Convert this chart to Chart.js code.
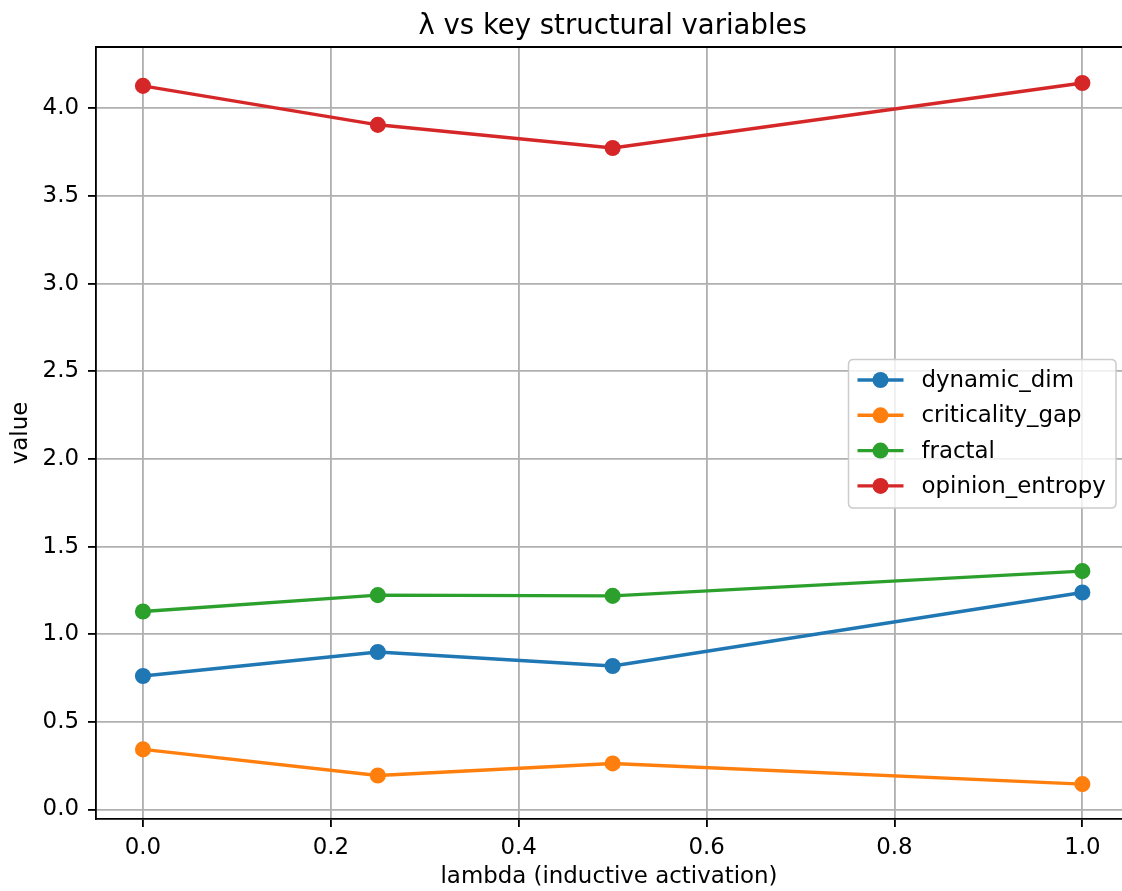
<!DOCTYPE html>
<html>
<head>
<meta charset="utf-8">
<script src="https://cdn.jsdelivr.net/npm/chart.js@4.4.1/dist/chart.umd.min.js"></script>
<style>
  body { margin: 0; background: #fff; }
  #wrap { width: 1122px; height: 891px; }
</style>
</head>
<body>
<div id="wrap"><canvas id="chart" width="1122" height="891"></canvas></div>
<script>
// values
const lambdas = [0.0, 0.25, 0.5, 1.0];
const dynamicDim = [0.762, 0.899, 0.819, 1.238];
const criticalityGap = [0.343, 0.194, 0.263, 0.145];
const fractal = [1.130, 1.223, 1.219, 1.360];
const opinionEntropy = [4.128, 3.906, 3.774, 4.145];

const seriesNames = ['dynamic_dim', 'criticality_gap', 'fractal', 'opinion_entropy'];
const seriesValues = [dynamicDim, criticalityGap, fractal, opinionEntropy];
const seriesColors = ['#1f77b4', '#ff7f0e', '#2ca02c', '#d62728'];

const xTicks = [0.0, 0.2, 0.4, 0.6, 0.8, 1.0];
const yTicks = [0.0, 0.5, 1.0, 1.5, 2.0, 2.5, 3.0, 3.5, 4.0];

const FONT = 'DejaVu Sans';

function keepTicks(list) {
    return (scale) => {
        scale.ticks = list.map(v => ({ value: v }));
    };
}

// title, top spine and an in-plot legend like matplotlib draws them
const extras = {
    id: 'extras',
    afterDraw(chart) {
        const ctx = chart.ctx;
        const area = chart.chartArea;
        const xs = chart.scales.x;
        ctx.save();

        // top spine
        ctx.strokeStyle = '#000';
        ctx.lineWidth = 1.83;
        ctx.beginPath();
        ctx.moveTo(area.left - 0.9, area.top);
        ctx.lineTo(area.right, area.top);
        ctx.stroke();

        // title centred over the full axes (-0.05 .. 1.05)
        const mid = (xs.getPixelForValue(-0.05) + xs.getPixelForValue(1.05)) / 2;
        ctx.fillStyle = '#000';
        ctx.font = '27.5px "' + FONT + '"';
        ctx.textAlign = 'center';
        ctx.textBaseline = 'alphabetic';
        ctx.fillText('λ vs key structural variables', mid, 34);

        // legend box
        const bx = 848.5, by = 359.5, bw = 267.5, bh = 148.5, r = 5;
        ctx.beginPath();
        ctx.moveTo(bx + r, by);
        ctx.lineTo(bx + bw - r, by);
        ctx.quadraticCurveTo(bx + bw, by, bx + bw, by + r);
        ctx.lineTo(bx + bw, by + bh - r);
        ctx.quadraticCurveTo(bx + bw, by + bh, bx + bw - r, by + bh);
        ctx.lineTo(bx + r, by + bh);
        ctx.quadraticCurveTo(bx, by + bh, bx, by + bh - r);
        ctx.lineTo(bx, by + r);
        ctx.quadraticCurveTo(bx, by, bx + r, by);
        ctx.closePath();
        ctx.fillStyle = 'rgba(255,255,255,0.8)';
        ctx.fill();
        ctx.strokeStyle = '#cccccc';
        ctx.lineWidth = 1.5;
        ctx.stroke();

        ctx.font = '22.9px "' + FONT + '"';
        ctx.textAlign = 'left';
        ctx.textBaseline = 'middle';
        seriesNames.forEach((name, i) => {
            const cy = 380 + i * 35.3;
            ctx.strokeStyle = seriesColors[i];
            ctx.lineWidth = 3.44;
            ctx.beginPath();
            ctx.moveTo(857.5, cy);
            ctx.lineTo(903.5, cy);
            ctx.stroke();
            ctx.fillStyle = seriesColors[i];
            ctx.beginPath();
            ctx.arc(880.5, cy, 8, 0, Math.PI * 2);
            ctx.fill();
            ctx.fillStyle = '#000';
            ctx.fillText(name, 921.5, cy + 1);
        });
        ctx.restore();
    }
};

const ctxLine = document.getElementById('chart').getContext('2d');

new Chart(ctxLine, {
    type: 'line',
    data: {
        datasets: seriesNames.map((name, i) => ({
            label: name,
            data: lambdas.map((x, j) => ({ x: x, y: seriesValues[i][j] })),
            borderColor: seriesColors[i],
            backgroundColor: seriesColors[i],
            pointBackgroundColor: seriesColors[i],
            pointBorderColor: seriesColors[i],
            pointBorderWidth: 2.3,
            pointRadius: 6.9,
            borderWidth: 3.44,
            fill: false,
            tension: 0,
            order: seriesNames.length - i
        }))
    },
    options: {
        responsive: false,
        animation: false,
        layout: { autoPadding: false, padding: { top: 47, right: 0, bottom: 0, left: 0 } },
        plugins: {
            legend: { display: false },
            title: { display: false },
            tooltip: { enabled: false }
        },
        scales: {
            x: {
                type: 'linear',
                min: -0.05,
                max: 1.0422,
                afterBuildTicks: keepTicks(xTicks),
                afterFit: (scale) => {
                    scale.height = 72;
                    scale.paddingLeft = 0;
                    scale.paddingRight = 0;
                },
                grid: { color: '#b0b0b0', lineWidth: 1.83, tickColor: '#000', tickLength: 8, tickWidth: 1.83 },
                border: { display: true, color: '#000', width: 1.83 },
                ticks: {
                    color: '#000',
                    padding: 7,
                    maxRotation: 0,
                    autoSkip: false,
                    font: { family: FONT, size: 22.9, lineHeight: 1.2 },
                    callback: (v) => Number(v).toFixed(1)
                },
                title: {
                    display: true,
                    text: 'lambda (inductive activation)',
                    color: '#000',
                    padding: { top: 0, bottom: 0 },
                    font: { family: FONT, size: 22.9, lineHeight: 1.2 }
                }
            },
            y: {
                type: 'linear',
                min: -0.054,
                max: 4.35,
                afterBuildTicks: keepTicks(yTicks),
                afterFit: (scale) => {
                    scale.width = 96;
                    scale.paddingTop = 0;
                    scale.paddingBottom = 0;
                },
                grid: { color: '#b0b0b0', lineWidth: 1.83, tickColor: '#000', tickLength: 8, tickWidth: 1.83 },
                border: { display: true, color: '#000', width: 1.83 },
                ticks: {
                    color: '#000',
                    padding: 9,
                    autoSkip: false,
                    font: { family: FONT, size: 22.9, lineHeight: 1.2 },
                    callback: (v) => Number(v).toFixed(1)
                },
                title: {
                    display: true,
                    text: 'value',
                    color: '#000',
                    padding: { top: 7.5, bottom: 0 },
                    font: { family: FONT, size: 22.9, lineHeight: 1.2 }
                }
            }
        }
    },
    plugins: [extras]
});
</script>
</body>
</html>
